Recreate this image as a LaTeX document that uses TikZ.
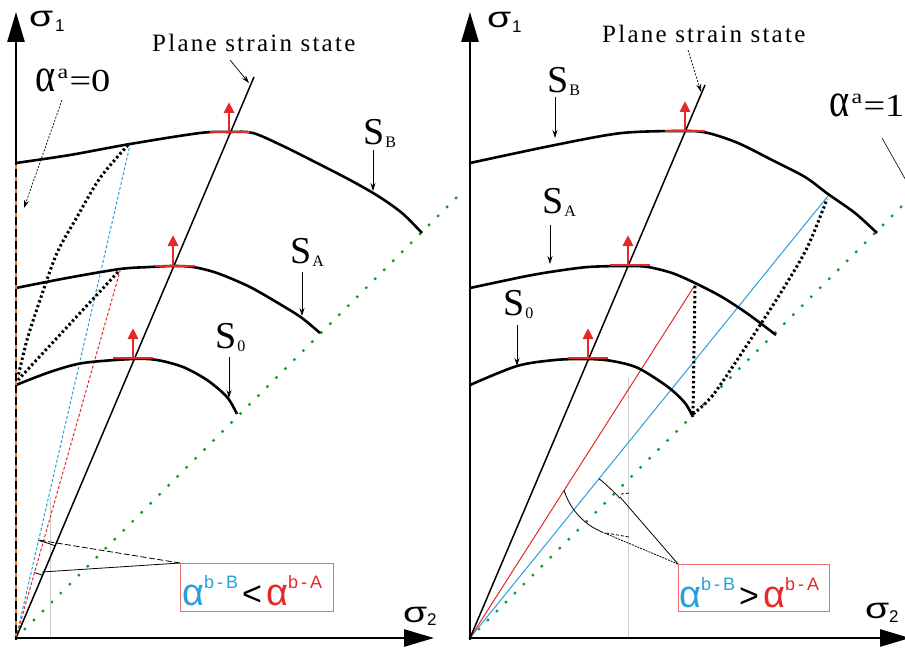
\documentclass[tikz,border=0pt]{standalone}
\usepackage{fontspec}
\usepackage{graphicx}
\usetikzlibrary{arrows.meta}
\newfontfamily\serifA{Liberation Serif}
\newfontfamily\sansA{Liberation Sans}
\newfontfamily\serifLS[LetterSpace=9]{Liberation Serif}
\definecolor{cblue}{RGB}{40,160,220}
\definecolor{cred}{RGB}{230,40,40}
\definecolor{cgreen}{RGB}{30,150,50}
\definecolor{corange}{RGB}{240,120,40}
\definecolor{cgrey}{RGB}{205,205,205}
\definecolor{cbox}{RGB}{240,110,110}
\newcommand\Slab[1]{{\serifA\fontsize{38}{38}\selectfont S}\hspace{1pt}\raisebox{-3pt}{\serifA\fontsize{16}{16}\selectfont #1}}
\newcommand\SigLab{\sansA\fontsize{29}{29}\selectfont\scalebox{1.35}[1]{σ}}
\newcommand\SubLab[1]{\sansA\fontsize{17}{17}\selectfont #1}
\newcommand\AlphaA[1]{{\serifA\fontsize{32}{32}\selectfont\scalebox{1.2}[1]{\scalebox{1}[1.5]{α}\hspace{2pt}\raisebox{13pt}{\fontsize{20}{20}\selectfont a}\hspace{1pt}=#1}}}
\newcommand\BoxText[1]{\sansA{\color{cblue}\fontsize{38}{38}\selectfont α}\raisebox{17pt}{\color{cblue}\fontsize{18}{18}\selectfont b\,-\,B}\hspace{4pt}{\fontsize{34}{34}\selectfont #1}\hspace{4pt}{\color{cred}\fontsize{38}{38}\selectfont α}\raisebox{17pt}{\color{cred}\fontsize{18}{18}\selectfont b\,-\,A}}
\tikzset{
  axis/.style={line width=2.6pt, -{Triangle[length=30pt,width=17pt]}},
  curve/.style={line width=2.6pt, line join=round},
  planeline/.style={line width=1.5pt},
  greendots/.style={cgreen, line width=3.4pt, line cap=round, dash pattern=on 0pt off 12.7pt},
  blackdots/.style={line width=3pt, dash pattern=on 2.4pt off 2.6pt},
  thinarrow/.style={line width=0.7pt, -{Stealth[length=8pt,width=5pt]}},
  redseg/.style={cred, line width=2.8pt},
  redarrow/.style={cred, line width=2.8pt, -{Triangle[length=11pt,width=10pt]}},
  lbl/.style={inner sep=0pt, anchor=base west},
  annbox/.style={draw=cbox, line width=0.8pt, inner sep=0pt, anchor=north west},
  annline/.style={line width=0.8pt},
}
\begin{document}
\begin{tikzpicture}[x=1pt,y=-1pt]
\useasboundingbox (0,0) rectangle (905,650);
\fill[white] (0,0) rectangle (905,650);

%%%%%%%%%%%%%%%% LEFT PANEL %%%%%%%%%%%%%%%%
\coordinate (OL) at (16,638);
% green dotted line sigma1 = sigma2
\draw[greendots] (OL) -- (460,194);
% grey vertical
\draw[cgrey, line width=1pt] (50,497) -- (50,638);
% blue and red dashed lines
\coordinate (PBL) at (130,145);
\coordinate (PAL) at (120,271);
\draw[cblue, line width=1pt, dash pattern=on 3pt off 2pt] (OL) -- (PBL);
\draw[cred, line width=1pt, dash pattern=on 3pt off 2pt] (OL) -- (PAL);
% plane strain line
\draw[planeline] (OL) -- (254,77);
% dotted curves
\draw[blackdots] plot[smooth] coordinates {(128,145) (100,178) (77,217) (57,253) (40,300) (27,340) (18,377)};
\draw[blackdots] (118,272) -- (18,380);
% yield curves
\draw[curve] plot[smooth] coordinates {(16,163) (70,155) (130,144) (200,133) (230,132) (253,133) (283,146) (317,163) (350,180) (378,196) (402,213) (422,233)};
\draw[curve] plot[smooth] coordinates {(16,288) (67,278) (120,269) (150,267) (173,266) (193,267) (217,273) (250,287) (283,306) (302,318) (320,333)};
\draw[curve] plot[smooth] coordinates {(16,385) (50,372) (83,363) (133,359) (157,360) (183,367) (207,380) (227,397) (237,414)};
% axes
\draw[axis] (16,640) -- (16,12);
\draw[axis] (14.7,638) -- (434,638);
\draw[corange, line width=2.6pt, dash pattern=on 4pt off 8pt] (16,165) -- (16,636);
% red markers
\draw[redseg] (210,132) -- (250,132);
\draw[redarrow] (229,132) -- (229,102);
\draw[redseg] (155,266) -- (195,266);
\draw[redarrow] (173,266) -- (173,235);
\draw[redseg] (113,358) -- (153,358);
\draw[redarrow] (133,358) -- (133,328);
% labels
\node[lbl] (s1L) at (29,27) {\SigLab};
\node[lbl] (s1Lsub) at (55,32) {\SubLab{1}};
\node[lbl] (s2L) at (403,622) {\SigLab};
\node[lbl] (s2Lsub) at (427,625) {\SubLab{2}};
\node[lbl] (psL) at (152,52) {\serifLS\fontsize{25}{25}\selectfont Plane strain state};
\draw[thinarrow] (230,60) -- (249,83);
\node[lbl] (aL) at (35,92) {\AlphaA{0}};
\draw[thinarrow, dash pattern=on 2pt off 1.5pt] (62,100) -- (24,208);
\node[lbl] (SBL) at (363,145) {\Slab{B}};
\draw[thinarrow] (373,150) -- (373,191);
\node[lbl] (SAL) at (290,263) {\Slab{A}};
\draw[thinarrow] (302,272) -- (302,316);
\node[lbl] (S0L) at (215,348) {\Slab{0}};
\draw[thinarrow] (229,357) -- (229,398);
% annotation
\node[annbox, minimum width=153pt, minimum height=48pt] (boxL) at (180,563) {};
\node[lbl] (tL) at (182,605) {\BoxText{<}};
\draw[annline, dash pattern=on 6pt off 2.5pt] (boxL.north west) -- (38,540);
\draw[annline] (boxL.north west) -- (42,572);
\draw[annline] plot[smooth, domain=77:67, samples=8] ({16+100*cos(\x)},{638-100*sin(\x)});
\draw[annline] plot[smooth, domain=74.2:67, samples=8] ({16+68*cos(\x)},{638-68*sin(\x)});

%%%%%%%%%%%%%%%% RIGHT PANEL %%%%%%%%%%%%%%%%
\coordinate (OR) at (470,638);
\draw[greendots] (OR) -- (907,201);
\draw[cgrey, line width=1pt] (628,378) -- (628,638);
\coordinate (PBR) at (828,196);
\coordinate (PAR) at (695,285);
\draw[cblue, line width=1pt] (OR) -- (PBR);
\draw[cred, line width=1pt] (OR) -- (PAR);
\draw[planeline] (OR) -- (705,85);
% dotted
\draw[blackdots] (695,286) -- (693,414);
\draw[blackdots] plot[smooth] coordinates {(693,414) (713,395) (747,345) (780,294) (807,248) (827,199)};
% yield curves
\draw[curve] plot[smooth] coordinates {(470,163) (555,145) (622,133) (685,131) (708,133) (738,143) (772,160) (805,177) (828,194) (855,213) (877,233)};
\draw[curve] plot[smooth] coordinates {(470,288) (522,277) (550,272) (588,267) (628,266) (648,267) (672,273) (695,283) (722,297) (748,314) (776,335)};
\draw[curve] plot[smooth] coordinates {(470,385) (517,366) (555,360) (588,359) (612,361) (638,368) (668,387) (685,403) (693,417)};
% axes
\draw[axis] (470,640) -- (470,12);
\draw[axis] (468.7,638) -- (910,638);
% red markers
\draw[redseg] (665,131) -- (705,131);
\draw[redarrow] (685,131) -- (685,101);
\draw[redseg] (610,265) -- (650,265);
\draw[redarrow] (628,265) -- (628,235);
\draw[redseg] (568,358) -- (608,358);
\draw[redarrow] (588,358) -- (588,328);
% labels
\node[lbl] (s1R) at (487,28) {\SigLab};
\node[lbl] (s1Rsub) at (512,33) {\SubLab{1}};
\node[lbl] (s2R) at (865,618) {\SigLab};
\node[lbl] (s2Rsub) at (889,622) {\SubLab{2}};
\node[lbl] (psR) at (602,43) {\serifLS\fontsize{25}{25}\selectfont Plane strain state};
\draw[thinarrow, dash pattern=on 2pt off 1.5pt] (688,50) -- (701,92);
\node[lbl] (aR) at (829,117) {\AlphaA{1}};
\draw[line width=0.6pt] (882,138) -- (908,184);
\node[lbl] (SBR) at (547,93) {\Slab{B}};
\draw[thinarrow] (555,97) -- (555,138);
\node[lbl] (SAR) at (542,213) {\Slab{A}};
\draw[thinarrow] (550,225) -- (550,264);
\node[lbl] (S0R) at (503,315) {\Slab{0}};
\draw[thinarrow] (517,325) -- (517,366);
% annotation
\node[annbox, minimum width=151pt, minimum height=47pt] (boxR) at (678,564) {};
\node[lbl] (tR) at (679,607) {\BoxText{>}};
\draw[annline] (boxR.north west) -- (620,497);
\draw[annline, dash pattern=on 2pt off 1pt] (boxR.north west) -- (602,532);
\draw[annline] plot[smooth, domain=51:43, samples=8] ({470+205*cos(\x)},{638-205*sin(\x)});
\draw[annline] (564,490) .. controls (570,510) and (585,525) .. (602,532);
\draw[annline, dash pattern=on 3pt off 2pt] (621,494) -- (630,493);
\draw[annline, dash pattern=on 3pt off 2pt] (606,533) -- (629,537);
\end{tikzpicture}
\end{document}
